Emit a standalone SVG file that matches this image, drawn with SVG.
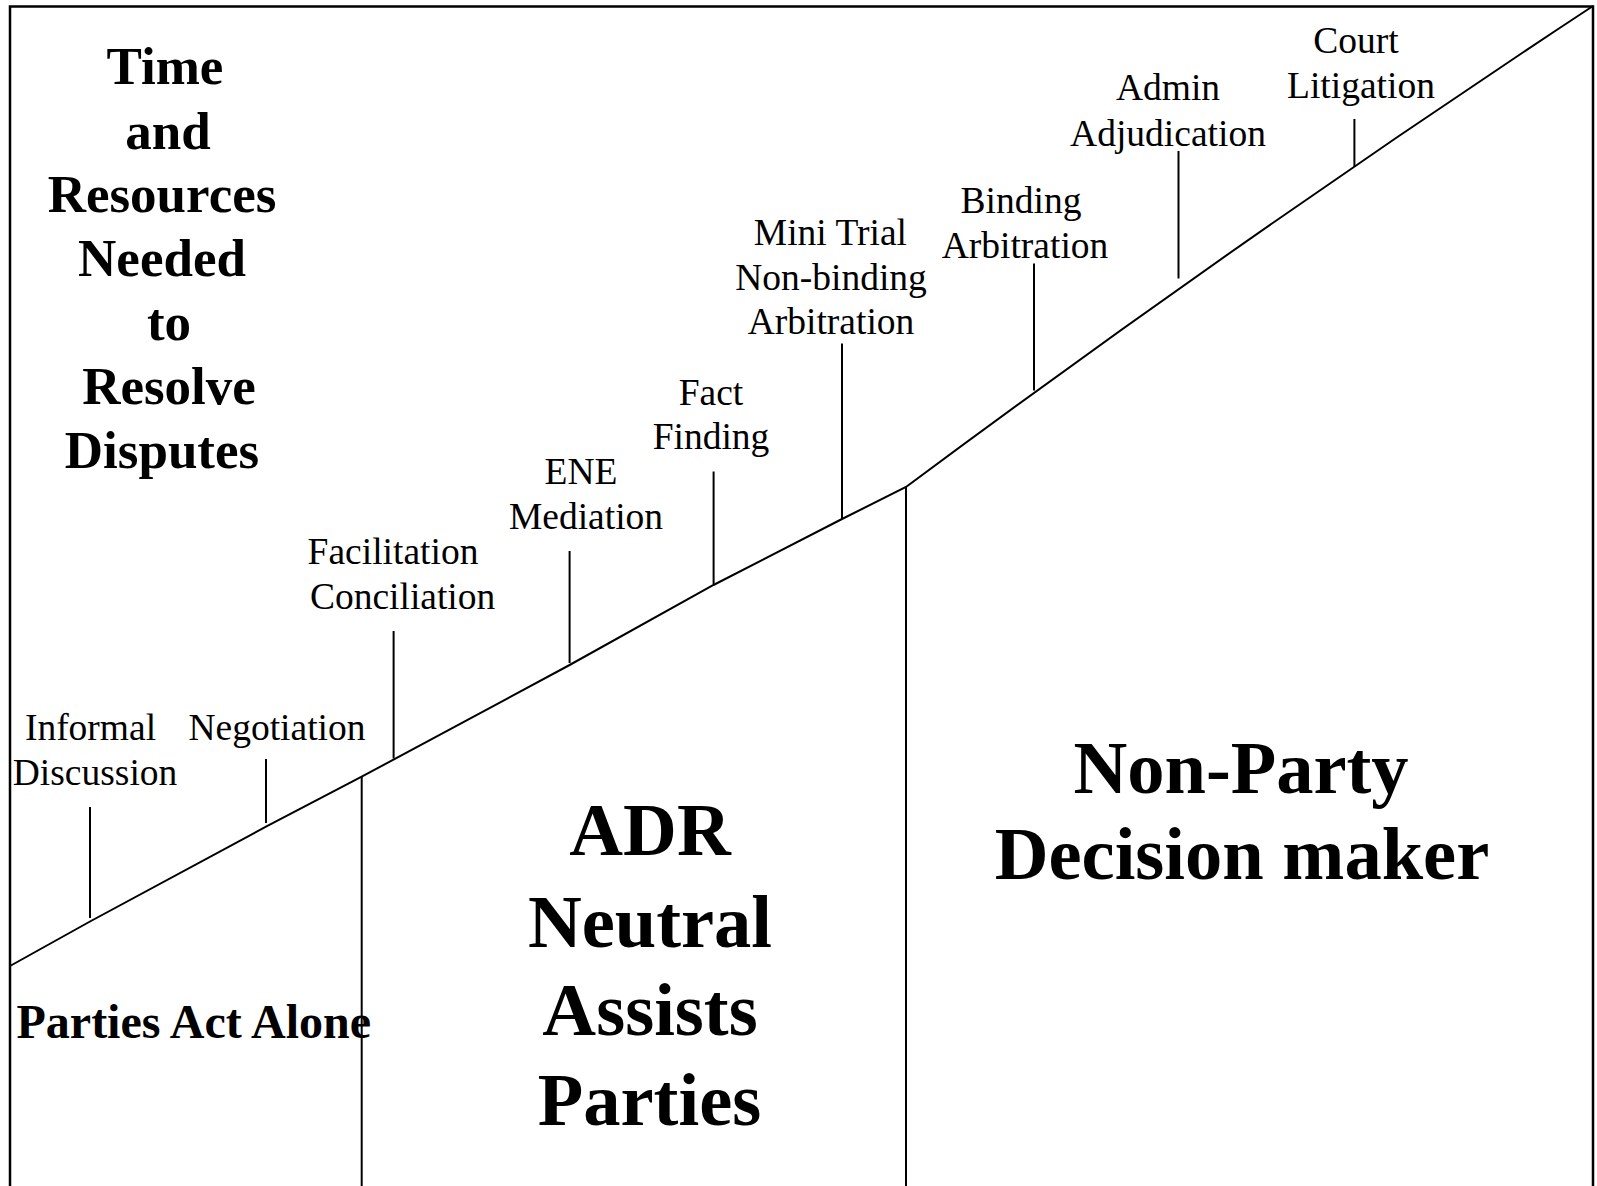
<svg xmlns="http://www.w3.org/2000/svg" width="1597" height="1186" viewBox="0 0 1597 1186">
<style>
.ln{stroke:#000;stroke-width:2;fill:none}
.fr{stroke:#000;stroke-width:2.5;fill:none}
.lb{font-family:"Liberation Serif","Times New Roman",serif;font-size:37.5px;fill:#000;text-anchor:middle}
.tt{font-family:"Liberation Serif","Times New Roman",serif;font-size:53px;font-weight:bold;fill:#000;text-anchor:middle}
.bg{font-family:"Liberation Serif","Times New Roman",serif;font-size:74.5px;font-weight:bold;fill:#000;text-anchor:middle}
.md{font-family:"Liberation Serif","Times New Roman",serif;font-size:48px;font-weight:bold;fill:#000}
</style>
<rect x="0" y="0" width="1597" height="1186" fill="#fff"/>
<g id="frame">
<path class="fr" d="M10 1190 V6.5 H1593 V1190"/>
</g>
<g id="connectors">
<path class="ln" d="M10,966 L90,921.5 L266,826.7 L361.7,776.7 L569.6,665 L713.5,585 L842,519 L906,487 Q1242.6,236.7 1593,6"/>
<line class="ln" x1="361.7" y1="776.7" x2="361.7" y2="1190"/>
<line class="ln" x1="906" y1="487" x2="906" y2="1190"/>
</g>
<g id="title">
<text class="tt" x="165" y="83.5">Time</text>
<text class="tt" x="168" y="148.5">and</text>
<text class="tt" x="162" y="211.5">Resources</text>
<text class="tt" x="162" y="276">Needed</text>
<text class="tt" x="169" y="340">to</text>
<text class="tt" x="169" y="403.5">Resolve</text>
<text class="tt" x="162" y="467.5">Disputes</text>
</g>
<g id="informal">
<text class="lb" x="90.5" y="740">Informal</text>
<text class="lb" x="95" y="785">Discussion</text>
<line class="ln" x1="90" y1="807" x2="90" y2="918"/>
</g>
<g id="negotiation">
<text class="lb" x="277" y="740">Negotiation</text>
<line class="ln" x1="266" y1="759" x2="266" y2="823"/>
</g>
<g id="facilitation">
<text class="lb" x="393" y="564">Facilitation</text>
<text class="lb" x="402.6" y="609">Conciliation</text>
<line class="ln" x1="393.6" y1="631" x2="393.6" y2="758.5"/>
</g>
<g id="ene">
<text class="lb" x="581" y="484">ENE</text>
<text class="lb" x="586" y="529">Mediation</text>
<line class="ln" x1="569.6" y1="551" x2="569.6" y2="663"/>
</g>
<g id="fact">
<text class="lb" x="711" y="405">Fact</text>
<text class="lb" x="711" y="449.3">Finding</text>
<line class="ln" x1="713.6" y1="471.5" x2="713.6" y2="584"/>
</g>
<g id="minitrial">
<text class="lb" x="830.4" y="245">Mini Trial</text>
<text class="lb" x="831" y="289.5">Non-binding</text>
<text class="lb" x="831" y="333.5">Arbitration</text>
<line class="ln" x1="842" y1="343.5" x2="842" y2="519"/>
</g>
<g id="binding">
<text class="lb" x="1021" y="213">Binding</text>
<text class="lb" x="1025" y="257.5">Arbitration</text>
<line class="ln" x1="1034" y1="263.5" x2="1034" y2="390.5"/>
</g>
<g id="admin">
<text class="lb" x="1168" y="100">Admin</text>
<text class="lb" x="1168" y="145.5">Adjudication</text>
<line class="ln" x1="1178.5" y1="151" x2="1178.5" y2="278.5"/>
</g>
<g id="court">
<text class="lb" x="1356" y="52.5">Court</text>
<text class="lb" x="1361" y="97.5">Litigation</text>
<line class="ln" x1="1354.4" y1="119" x2="1354.4" y2="167"/>
</g>
<g id="parties-alone">
<text class="md" x="16.5" y="1038.3">Parties Act Alone</text>
</g>
<g id="adr">
<text class="bg" x="650" y="855">ADR</text>
<text class="bg" x="650" y="946.7">Neutral</text>
<text class="bg" x="650" y="1035">Assists</text>
<text class="bg" x="649.5" y="1125">Parties</text>
</g>
<g id="nonparty">
<text class="bg" x="1241" y="792.7">Non-Party</text>
<text class="bg" x="1242" y="879.3">Decision maker</text>
</g>
</svg>
